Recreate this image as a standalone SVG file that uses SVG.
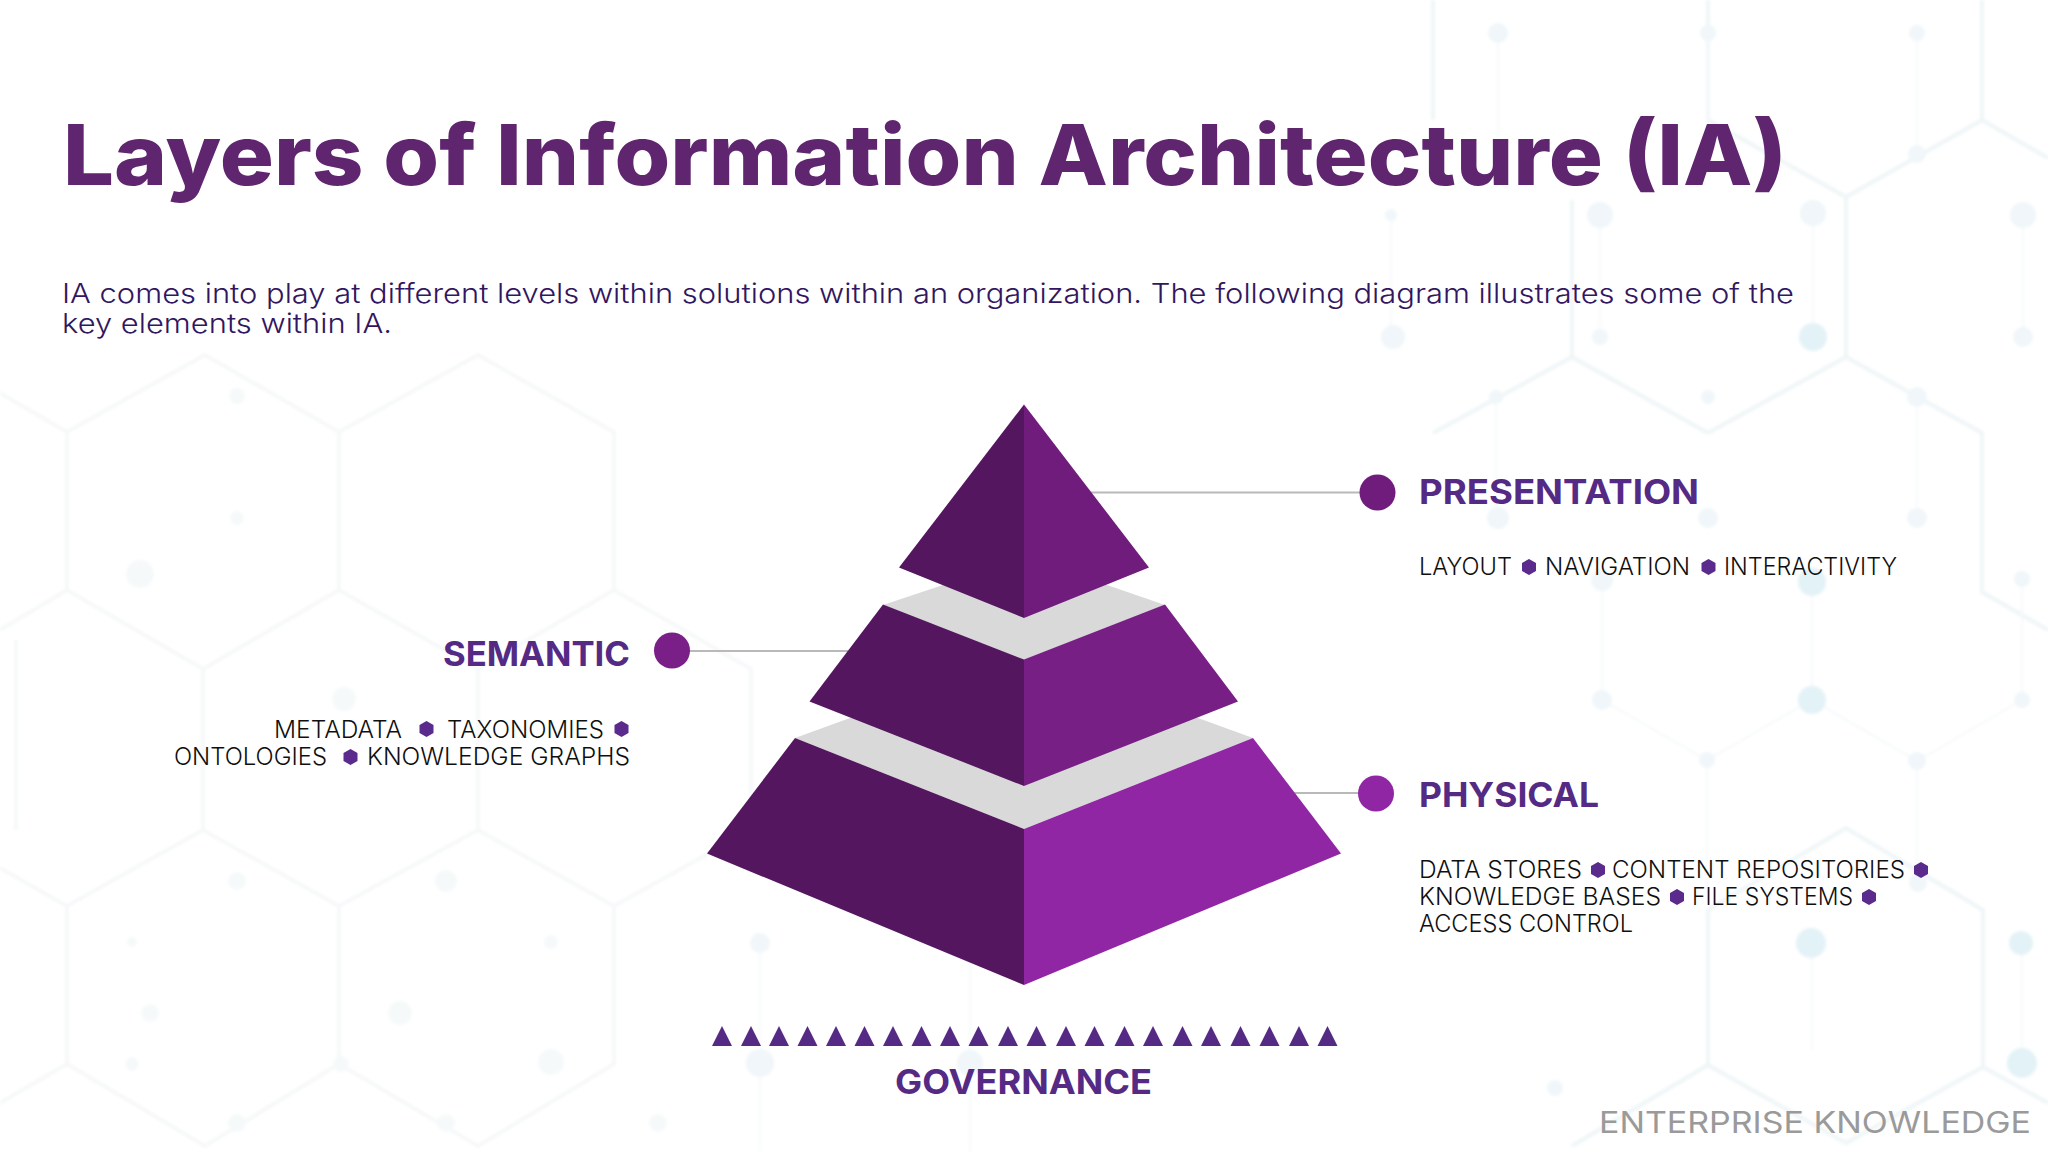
<svg xmlns="http://www.w3.org/2000/svg" width="2048" height="1152" viewBox="0 0 2048 1152">
<defs>
<polygon id="hx" points="0,-8 7,-4 7,4 0,8 -7,4 -7,-4"/>
<polygon id="tri" points="0,20 10,0 20,20"/>
<filter id="soft" x="-5%" y="-5%" width="110%" height="110%"><feGaussianBlur stdDeviation="1.6"/></filter>
<style>
text{font-family:"Inter","Liberation Sans",sans-serif}
.title{font-size:84px;font-weight:800;fill:#60256f}
.sub{font-size:27.5px;font-weight:300;fill:#321660}
.head{font-size:34px;font-weight:700;fill:#552a85}
.body{font-size:23.5px;font-weight:300;fill:#0f0f0f}
.foot{font-size:30px;font-weight:400;fill:#9a9a9a}
.bul{fill:#5a2a8c}
.tri{fill:#552a85}
.hexa{fill:none;stroke:#f5f7f8;stroke-width:3.5}
.hexb{fill:none;stroke:#eff5f7;stroke-width:4}
.thin{fill:none;stroke:#f5f9fa;stroke-width:2}
.node{fill:#f0f6f9}
.nodeb{fill:#e3f2f7}
.nodea{fill:#f6f9fa}
.conn{stroke:#b9b9b9;stroke-width:2;fill:none}
</style>
</defs>
<rect width="2048" height="1152" fill="#ffffff"/>
<g id="background" filter="url(#soft)">
<path class="hexa" d="M67 432V590L203 669L339 590V432L205 355ZM339 432L478 355L614 432V590L478 669L339 590M203 669V830L67 906V1064L205 1146L339 1064V906L203 830M339 906L478 830L614 906V1064L478 1146L339 1064M478 669V830M614 590L751 669V830L614 906M67 432L0 393M67 590L0 630M67 906L0 868M67 1064L0 1103M16 640V830M751 830L880 906"/>
<path class="hexb" d="M1433 0V120M1572 200V357L1708 433M1708 0V120L1846 197V357L1708 433M1982 0V120L1846 197M1982 120L2048 158M1846 357L1982 433V592L2048 630M1572 357L1433 433M1708 910V1065L1846 1143L1983 1067V910L1846 828L1708 910M1983 1067L2048 1103M1708 1065L1572 1146"/>
<path class="thin" d="M1498 33V150M1708 33V120M1917 33V154M1600 215V337M1813 213V337M2023 215V337M1391 215V337M1496 397V520M1917 397V520M1602 580V700M1812 582V700M2022 579V700M1707 760V900M1917 761V883M1602 700L1707 760L1812 700L1917 761L2022 700M1812 940V1050M2022 940V1060M760 943V1152M970 943V1152"/>
<circle class="node" cx="1498" cy="33" r="10"/><circle class="node" cx="1708" cy="33" r="8"/><circle class="node" cx="1917" cy="33" r="8"/><circle class="node" cx="1917" cy="154" r="9"/><circle class="node" cx="1391" cy="215" r="6"/><circle class="node" cx="1600" cy="215" r="13"/><circle class="node" cx="1813" cy="213" r="13"/><circle class="node" cx="2023" cy="215" r="13"/><circle class="node" cx="1393" cy="337" r="12"/><circle class="node" cx="1600" cy="337" r="8"/><circle class="nodeb" cx="1813" cy="337" r="14"/><circle class="node" cx="2023" cy="337" r="10"/><circle class="node" cx="1496" cy="397" r="7"/><circle class="node" cx="1708" cy="397" r="7"/><circle class="node" cx="1917" cy="397" r="10"/>
<circle class="node" cx="1498" cy="518" r="11"/><circle class="node" cx="1708" cy="518" r="10"/><circle class="node" cx="1917" cy="518" r="10"/><circle class="node" cx="1602" cy="580" r="11"/><circle class="nodeb" cx="1812" cy="582" r="14"/><circle class="node" cx="2022" cy="579" r="8"/><circle class="node" cx="1602" cy="700" r="10"/><circle class="nodeb" cx="1812" cy="700" r="14"/><circle class="node" cx="2022" cy="700" r="8"/><circle class="node" cx="1707" cy="760" r="8"/><circle class="node" cx="1917" cy="761" r="9"/><circle class="node" cx="1918" cy="883" r="9"/><circle class="nodeb" cx="1811" cy="943" r="15"/><circle class="nodeb" cx="2021" cy="943" r="12"/><circle class="nodeb" cx="2022" cy="1063" r="15"/><circle class="node" cx="1555" cy="1088" r="8"/>
<circle class="nodea" cx="237" cy="396" r="8"/><circle class="nodea" cx="237" cy="518" r="7"/><circle class="nodea" cx="140" cy="574" r="14"/><circle class="nodea" cx="344" cy="699" r="12"/><circle class="nodea" cx="237" cy="881" r="9"/><circle class="nodea" cx="446" cy="881" r="11"/><circle class="nodea" cx="132" cy="942" r="5"/><circle class="nodea" cx="551" cy="942" r="7"/><circle class="nodea" cx="150" cy="1013" r="9"/><circle class="nodea" cx="400" cy="1013" r="12"/><circle class="nodea" cx="132" cy="1064" r="7"/><circle class="nodea" cx="551" cy="1062" r="13"/><circle class="nodea" cx="341" cy="1064" r="8"/><circle class="nodea" cx="237" cy="1123" r="9"/><circle class="nodea" cx="446" cy="1123" r="9"/><circle class="nodea" cx="658" cy="1123" r="9"/><circle class="node" cx="760" cy="1063" r="14"/><circle class="node" cx="970" cy="1063" r="13"/><circle class="node" cx="760" cy="943" r="10"/>
</g>
<g id="connectors">
<line class="conn" x1="1090" y1="492.5" x2="1362" y2="492.5"/>
<line class="conn" x1="688" y1="651" x2="848" y2="651"/>
<line class="conn" x1="1294" y1="793" x2="1360" y2="793"/>
</g>
<g id="pyramid">
<polygon points="883,605 943,585 1107,585 1165,605 1024,660" fill="#d9d9d9"/>
<polygon points="795,738 850,718 1198,718 1253,738 1024,829" fill="#d9d9d9"/>
<g id="tier-presentation">
<polygon points="1024,404.5 899,567.5 1024,618" fill="#54165f"/>
<polygon points="1024,404.5 1149,567.5 1024,618" fill="#6f1c7c"/>
</g>
<g id="tier-semantic">
<polygon points="883,604.5 1024,659.5 1024,786 809.5,701.5" fill="#54165f"/>
<polygon points="1165,604.5 1024,659.5 1024,786 1238,701.5" fill="#771f85"/>
</g>
<g id="tier-physical">
<polygon points="795,738 1024,829 1024,985 707,853.5" fill="#54165f"/>
<polygon points="1253,738 1024,829 1024,985 1341,853.5" fill="#9126a4"/>
</g>
</g>
<g id="title">
<text class="title" x="63" y="185" textLength="1724" lengthAdjust="spacingAndGlyphs">Layers of Information Architecture (IA)</text>
<text class="sub" x="62" y="303" textLength="1732" lengthAdjust="spacingAndGlyphs">IA comes into play at different levels within solutions within an organization. The following diagram illustrates some of the</text>
<text class="sub" x="62" y="333" textLength="330" lengthAdjust="spacingAndGlyphs">key elements within IA.</text>
</g>
<g id="node-presentation">
<circle cx="1377.5" cy="492.5" r="18" fill="#6f1c7c"/>
<text class="head" x="1419" y="504" textLength="280" lengthAdjust="spacingAndGlyphs">PRESENTATION</text>
<text class="body" x="1419" y="575" textLength="93" lengthAdjust="spacingAndGlyphs">LAYOUT</text>
<use href="#hx" class="bul" x="1529" y="567"/>
<text class="body" x="1545" y="575" textLength="145" lengthAdjust="spacingAndGlyphs">NAVIGATION</text>
<use href="#hx" class="bul" x="1708.5" y="567"/>
<text class="body" x="1724" y="575" textLength="173" lengthAdjust="spacingAndGlyphs">INTERACTIVITY</text>
</g>
<g id="node-semantic">
<circle cx="672" cy="650.5" r="18" fill="#7a1f88"/>
<text class="head" x="443" y="666" textLength="187" lengthAdjust="spacingAndGlyphs">SEMANTIC</text>
<text class="body" x="274" y="738" textLength="128" lengthAdjust="spacingAndGlyphs">METADATA</text>
<use href="#hx" class="bul" x="426.5" y="729"/>
<text class="body" x="447" y="738" textLength="157" lengthAdjust="spacingAndGlyphs">TAXONOMIES</text>
<use href="#hx" class="bul" x="621.5" y="729"/>
<text class="body" x="174" y="765" textLength="153" lengthAdjust="spacingAndGlyphs">ONTOLOGIES</text>
<use href="#hx" class="bul" x="350.5" y="757"/>
<text class="body" x="367" y="765" textLength="263" lengthAdjust="spacingAndGlyphs">KNOWLEDGE GRAPHS</text>
</g>
<g id="node-physical">
<circle cx="1376" cy="793.5" r="18" fill="#9126a4"/>
<text class="head" x="1419" y="807" textLength="180" lengthAdjust="spacingAndGlyphs">PHYSICAL</text>
<text class="body" x="1419" y="878" textLength="163" lengthAdjust="spacingAndGlyphs">DATA STORES</text>
<use href="#hx" class="bul" x="1598" y="870"/>
<text class="body" x="1612" y="878" textLength="293" lengthAdjust="spacingAndGlyphs">CONTENT REPOSITORIES</text>
<use href="#hx" class="bul" x="1921" y="870"/>
<text class="body" x="1419" y="905" textLength="242" lengthAdjust="spacingAndGlyphs">KNOWLEDGE BASES</text>
<use href="#hx" class="bul" x="1677" y="897"/>
<text class="body" x="1692" y="905" textLength="161" lengthAdjust="spacingAndGlyphs">FILE SYSTEMS</text>
<use href="#hx" class="bul" x="1869" y="897"/>
<text class="body" x="1419" y="932" textLength="214" lengthAdjust="spacingAndGlyphs">ACCESS CONTROL</text>
</g>
<g id="node-governance">
<g class="tri">
<use href="#tri" x="712" y="1026"/><use href="#tri" x="741" y="1026"/><use href="#tri" x="769" y="1026"/><use href="#tri" x="797.5" y="1026"/><use href="#tri" x="826" y="1026"/><use href="#tri" x="854.5" y="1026"/><use href="#tri" x="883" y="1026"/><use href="#tri" x="911.5" y="1026"/><use href="#tri" x="940" y="1026"/><use href="#tri" x="968.5" y="1026"/><use href="#tri" x="998" y="1026"/><use href="#tri" x="1026.5" y="1026"/><use href="#tri" x="1056" y="1026"/><use href="#tri" x="1084.5" y="1026"/><use href="#tri" x="1114.5" y="1026"/><use href="#tri" x="1143" y="1026"/><use href="#tri" x="1172.5" y="1026"/><use href="#tri" x="1201" y="1026"/><use href="#tri" x="1230.5" y="1026"/><use href="#tri" x="1259.5" y="1026"/><use href="#tri" x="1289" y="1026"/><use href="#tri" x="1317.5" y="1026"/>
</g>
<text class="head" x="895" y="1094" textLength="257" lengthAdjust="spacingAndGlyphs">GOVERNANCE</text>
</g>
<g id="footer">
<text class="foot" x="1599" y="1133" textLength="432" lengthAdjust="spacingAndGlyphs">ENTERPRISE KNOWLEDGE</text>
</g>
</svg>
